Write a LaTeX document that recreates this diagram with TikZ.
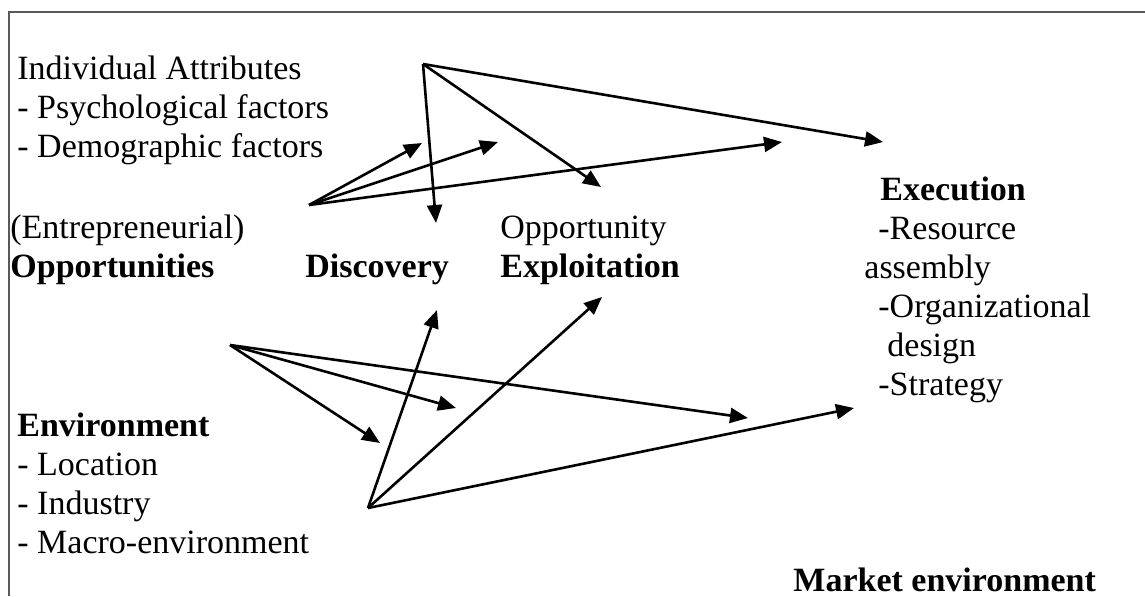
\documentclass[tikz,border=0pt]{standalone}
\usepackage{fontspec}
\setmainfont{Liberation Serif}
\usetikzlibrary{arrows.meta}
\tikzset{
  lbl/.style={anchor=base west, inner sep=0pt, align=left,
    font=\fontsize{17}{19.5}\selectfont},
  link/.style={line width=1.3pt, -{Triangle[length=9pt,width=7.5pt]}},
  frame/.style={draw=black!65, line width=0.6pt}
}
\begin{document}
\begin{tikzpicture}[x=0.5pt,y=-0.5pt]
\useasboundingbox (0,0) rectangle (1145,596);
\draw[frame] (1145,12) -- (9,12) -- (9,596);

% text blocks (placed at the baseline of their last line)
\node[lbl] (indiv) at (17,157) {Individual Attributes\\- Psychological factors\\- Demographic factors};
\node[lbl] (opps) at (10,277) {(Entrepreneurial)\\\textbf{Opportunities}};
\node[lbl] (disc) at (305,277) {\textbf{Discovery}};
\node[lbl] (expl) at (500,277) {Opportunity\\\textbf{Exploitation}};
\node[lbl] (exec) at (864,395) {\hspace*{8pt}\textbf{Execution}\\\hspace*{7pt}-Resource\\assembly\\\hspace*{7pt}-Organizational\\\hspace*{11.5pt}design\\\hspace*{7pt}-Strategy};
\node[lbl] (env) at (17,553) {\textbf{Environment}\\- Location\\- Industry\\- Macro-environment};
\node[lbl] (mkt) at (793,591) {\textbf{Market environment}};

% arrow sources
\coordinate (ia) at (423,64);
\coordinate (ib) at (309,205);
\coordinate (ea) at (230,345);
\coordinate (eb) at (368,508);

% arrow ends
\coordinate (iaD) at (436,223);
\coordinate (iaX) at (601,187);
\coordinate (iaE) at (883,142);
\coordinate (ibD) at (422,143);
\coordinate (ibX) at (498,142);
\coordinate (ibE) at (782,142);
\coordinate (eaD) at (380,443);
\coordinate (eaX) at (456,408);
\coordinate (eaE) at (748,418);
\coordinate (ebD) at (437,310);
\coordinate (ebX) at (602,297);
\coordinate (ebE) at (854,408);

\foreach \s in {ia,ib,ea,eb}
  \foreach \t in {D,X,E}
    \draw[link] (\s) -- (\s\t);
\end{tikzpicture}
\end{document}
